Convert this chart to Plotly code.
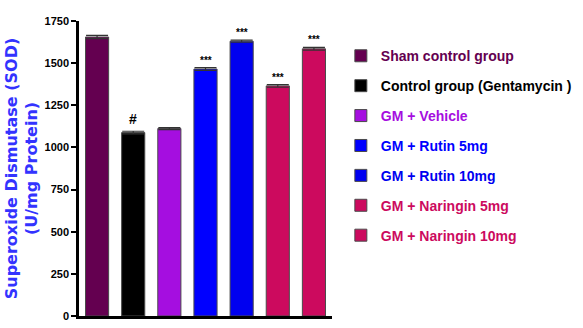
import plotly.graph_objects as go

groups = ["Sham control group", "Control group (Gentamycin )", "GM + Vehicle",
          "GM + Rutin 5mg", "GM + Rutin 10mg", "GM + Naringin 5mg", "GM + Naringin 10mg"]
values = [1655, 1088, 1112, 1465, 1630, 1365, 1585]
errors = [10, 8, 6, 8, 6, 8, 8]
signif = ["", "#", "", "***", "***", "***", "***"]
colors = ["#640050", "#000000", "#a50ee0", "#0000ff", "#0000f0", "#cc0a5e", "#cc0a5e"]
yticks = [0, 250, 500, 750, 1000, 1250, 1500, 1750]

FONT = "Liberation Sans, Arial"

fig = go.Figure()
for i, g in enumerate(groups):
    fig.add_trace(go.Bar(
        x=[i], y=[values[i]], width=0.64,
        name=f'<span style="color:{colors[i]}"><b>{g}</b></span>',
        marker=dict(color=colors[i], line=dict(color="#4a4a4a", width=1)),
        error_y=dict(type="data", array=[errors[i]], color="#333333", thickness=1.2, width=11),
        legendgroup=str(i),
    ))
    if signif[i]:
        fig.add_annotation(x=i, y=values[i] + errors[i], text=f"<b>{signif[i]}</b>",
                           showarrow=False, yanchor="bottom", yshift=0 if signif[i] == "***" else 2,
                           font=dict(size=10 if signif[i] == "***" else 14, color="#000000", family=FONT))

fig.update_layout(
    width=583, height=328,
    margin=dict(l=79, r=239, t=21, b=6),
    plot_bgcolor="white", paper_bgcolor="white",
    barmode="overlay",
    showlegend=True,
    legend=dict(x=1.035, y=0.935, xanchor="left", yanchor="top",
                font=dict(family=FONT, size=14, color="#000000"),
                tracegroupgap=8.7, itemwidth=30, bgcolor="rgba(0,0,0,0)"),
    font=dict(family=FONT),
)
fig.update_xaxes(range=[-0.5, 6.5], showticklabels=False, ticks="", showgrid=False,
                 zeroline=False, showline=True, linecolor="#000000", linewidth=3)
fig.update_yaxes(range=[0, 1750], tickvals=yticks, ticktext=[f"<b>{v}</b>" for v in yticks],
                 ticks="outside", ticklen=5, tickwidth=2, tickcolor="#000000",
                 showgrid=False, zeroline=False, showline=True, linecolor="#000000", linewidth=2.5,
                 tickfont=dict(family=FONT, size=11, color="#000000"),
                 title=dict(text="<b>Superoxide Dismutase (SOD)<br>(U/mg Protein)</b>",
                            font=dict(family="DejaVu Sans, Liberation Sans", size=16, color="#3333ff"),
                            standoff=3))
fig.write_html("out.html")
